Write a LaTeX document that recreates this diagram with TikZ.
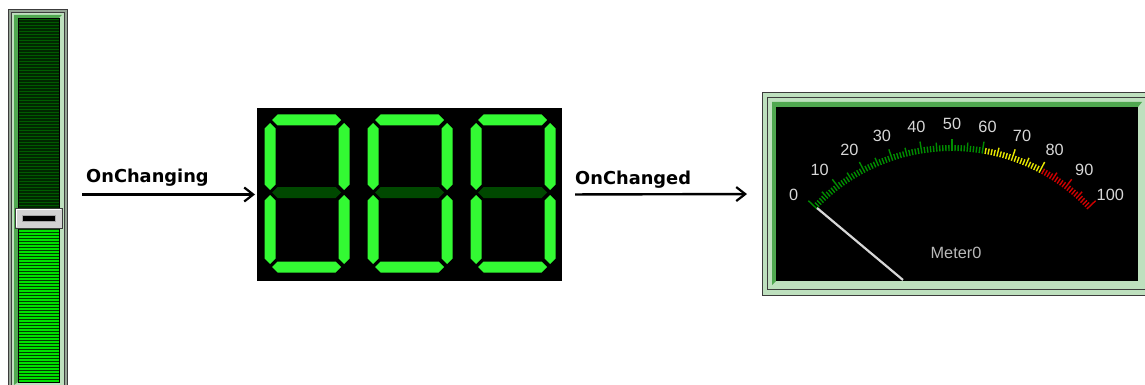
\documentclass[tikz,border=0pt]{standalone}
\usepackage{fontspec}
\setmainfont{Liberation Sans}
\newfontfamily\lblfont{DejaVu Sans}
\usetikzlibrary{arrows.meta,calc}
\definecolor{seggreen}{RGB}{51,250,51}
\definecolor{segdark}{RGB}{0,72,0}
\definecolor{mint}{RGB}{190,224,190}
\definecolor{bevel}{RGB}{80,168,80}
\definecolor{framegray}{RGB}{150,165,150}
\definecolor{edgegray}{RGB}{60,60,60}
\definecolor{tickgreen}{RGB}{0,140,0}
\definecolor{tickyellow}{RGB}{230,230,0}
\definecolor{tickred}{RGB}{205,0,0}
\definecolor{scalegray}{RGB}{215,215,215}
\definecolor{namegray}{RGB}{185,185,185}
\definecolor{trackdark}{RGB}{0,40,0}
\definecolor{trackdarkline}{RGB}{0,92,0}
\definecolor{trackbright}{RGB}{0,225,0}
\definecolor{trackbrightline}{RGB}{0,60,0}
\newcommand\segH[3]{\fill ({#1},{#3}) -- ({#1+5.5},{#3-5.5}) -- ({#2-5.5},{#3-5.5}) -- ({#2},{#3}) -- ({#2-5.5},{#3+5.5}) -- ({#1+5.5},{#3+5.5}) -- cycle;}
\newcommand\segV[3]{\fill ({#1},{#2}) -- ({#1+5.5},{#2+5.5}) -- ({#1+5.5},{#3-5.5}) -- ({#1},{#3}) -- ({#1-5.5},{#3-5.5}) -- ({#1-5.5},{#2+5.5}) -- cycle;}
\begin{document}
\begin{tikzpicture}[x=1pt,y=-1pt,
  box/.style={inner sep=0pt,outer sep=0pt,draw=none},
  flow/.style={line width=2.4pt,-{Straight Barb[length=9pt,width=14pt,line width=2.2pt]}},
  evlabel/.style={anchor=base west,inner sep=0pt,font=\lblfont\bfseries\fontsize{17.8}{19}\selectfont},
  scalelbl/.style={text=scalegray,inner sep=0pt,font=\fontsize{16.3}{17}\selectfont}]
\useasboundingbox (0,0) rectangle (1145,385);
\clip (0,0) rectangle (1145,385);
\fill[white] (0,0) rectangle (1145,385);

% ---------- slider ----------
\node[box,minimum width=60pt,minimum height=376pt] (slider) at (38,197) {};
\filldraw[fill=framegray,draw=edgegray,line width=1pt] (8.5,9.5) rectangle (67.5,395);
\filldraw[fill=mint,draw=edgegray,line width=0.8pt] (11.5,12.5) rectangle (64.5,392);
\fill[bevel] (14,15) -- (62,15) -- (59,18) -- (18,18) -- (18,382) -- (14,385) -- cycle;
\fill[trackdark] (18,18) rectangle (59,208);
\foreach \yy in {19.5,22.5,...,207} \draw[trackdarkline,line width=1.4pt] (18,\yy) -- (59,\yy);
\fill[trackbright] (18,228) rectangle (59,382);
\foreach \yy in {229.5,232.5,...,381} \draw[trackbrightline,line width=0.9pt] (18,\yy) -- (59,\yy);
\draw[black,line width=0.6pt] (18,18) rectangle (59,382);
% thumb
\filldraw[fill=gray!35,draw=edgegray,line width=1pt] (15,208) rectangle (62,228);
\draw[white,line width=1.2pt] (16.5,226.5) -- (16.5,209.5) -- (60.5,209.5);
\filldraw[fill=black,draw=gray!70,line width=1pt] (22,215) rectangle (55,221);

% ---------- seven segment display ----------
\node[box,minimum width=305pt,minimum height=173pt,fill=black] (disp) at (409.5,194.5) {};
\foreach \dx in {0,103,206} {
  \begin{scope}[shift={(\dx,0)}]
    \begin{scope}[fill=seggreen]
      \segH{272}{341}{120}
      \segH{272}{341}{267}
      \segV{270}{123}{190}
      \segV{344}{123}{190}
      \segV{270}{195}{264}
      \segV{344}{195}{264}
    \end{scope}
    \begin{scope}[fill=segdark]
      \segH{272}{341}{192.5}
    \end{scope}
  \end{scope}
}

% ---------- meter ----------
\node[box,minimum width=388pt,minimum height=204pt] (meter) at (956,194) {};
\filldraw[fill=mint,draw=edgegray,line width=1.2pt] (762.5,92.5) rectangle (1160,295.5);
\draw[edgegray,line width=1pt] (767.5,97.5) rectangle (1160,289);
\fill[bevel] (772,102) -- (1142,102) -- (1138,107) -- (776,107) -- (776,281) -- (772,285) -- cycle;
\fill[black] (776,107) rectangle (1138,281);
% ticks
\foreach \i in {0,...,100} {
  \pgfmathsetmacro\ang{136.5-0.93*\i}
  \pgfmathsetmacro\len{ifthenelse(mod(\i,10)==0,12,ifthenelse(mod(\i,5)==0,9,6))}
  \pgfmathsetmacro\col{ifthenelse(\i<=60,1,ifthenelse(\i<=80,2,3))}
  \ifcase\col\or\def\tc{tickgreen}\or\def\tc{tickyellow}\or\def\tc{tickred}\fi
  \draw[\tc,line width=1.4pt] ({952+186*cos(\ang)},{337-186*sin(\ang)}) -- ({952+(186+\len)*cos(\ang)},{337-(186+\len)*sin(\ang)});
}
% scale labels
\foreach \v [count=\k from 0] in {0,10,...,100} {
  \pgfmathsetmacro\la{138-9.6*\k}
  \node[scalelbl] (lbl\k) at ({952+213*cos(\la)},{337-213*sin(\la)}) {\v};
}
% needle
\draw[scalegray,line width=2.2pt] (817,208) -- (903,280);
\node[scalelbl,text=namegray] (mname) at (956,253) {Meter0};

% ---------- connectors ----------
\draw[flow,shorten <=14pt,shorten >=2pt] (slider.east |- disp.west) -- (disp.west);
\draw[flow,shorten <=13pt,shorten >=15pt] (disp.east) -- (meter.west);
\node[evlabel] (lab1) at (86,182) {OnChanging};
\node[evlabel] (lab2) at (575,184) {OnChanged};
\end{tikzpicture}
\end{document}
